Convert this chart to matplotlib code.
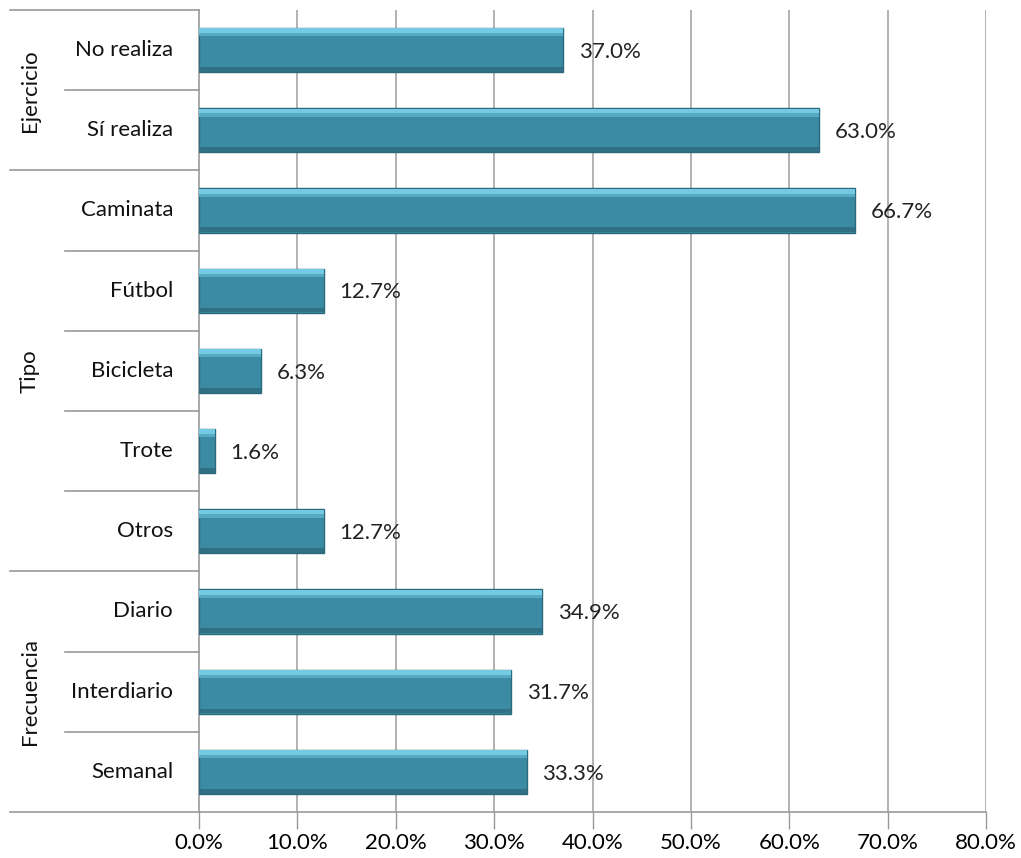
import matplotlib
matplotlib.use("Agg")
import matplotlib.pyplot as plt
import matplotlib.transforms as mtransforms

categories = ["No realiza", "Sí realiza", "Caminata", "Fútbol", "Bicicleta",
              "Trote", "Otros", "Diario", "Interdiario", "Semanal"]
values = [37.0, 63.0, 66.7, 12.7, 6.3, 1.6, 12.7, 34.9, 31.7, 33.3]
groups = ["Ejercicio", "Tipo", "Frecuencia"]
group_sizes = [2, 5, 3]
xticks = [0, 10, 20, 30, 40, 50, 60, 70, 80]

plt.rcParams['font.family'] = ['Lato', 'DejaVu Sans']
FS = 16

fig = plt.figure(figsize=(10.21, 8.58), dpi=100)
ax = fig.add_axes([199/1021, 1 - 812/858, 787/1021, 802/858])

n = len(categories)
ypos = list(range(n))
h = 0.55
ax.barh(ypos, values, height=h, color='#3A8BA3', edgecolor='#2B6A7C',
        linewidth=1.0, zorder=3)
# bevel highlight (top) and shade (bottom)
ax.barh([y - h/2 + 0.035 for y in ypos], values, height=0.06, color='#74C9E3',
        linewidth=0, zorder=4)
ax.barh([y - h/2 + 0.085 for y in ypos], values, height=0.04, color='#56AAC4',
        linewidth=0, zorder=4)
ax.barh([y + h/2 - 0.035 for y in ypos], values, height=0.06, color='#2F7085',
        linewidth=0, zorder=4)

for y, v in zip(ypos, values):
    ax.text(v + 1.6, y + 0.02, f"{v:.1f}%", va='center', ha='left',
            fontsize=FS, color='#222222', zorder=5)

ax.set_xlim(0, 80)
ax.set_ylim(n - 0.5, -0.5)
ax.set_xticks(xticks)
ax.set_xticklabels([f"{t:.1f}%" for t in xticks], fontsize=FS)
ax.tick_params(axis='x', length=12, width=1, color='#999999', pad=3)
ax.set_yticks([])
for t in xticks[1:]:
    ax.axvline(t, color='#A6A6A6', linewidth=1.2, zorder=1)
for side in ['top', 'right']:
    ax.spines[side].set_visible(False)
ax.spines['left'].set_color('#999999')
ax.spines['bottom'].set_color('#999999')
ax.spines['left'].set_linewidth(1.2)
ax.spines['bottom'].set_linewidth(1.2)

trans = mtransforms.blended_transform_factory(ax.transAxes, ax.transData)
x_far = (10 - 199) / 787
x_near = (65 - 199) / 787
for y, c in zip(ypos, categories):
    ax.text((173 - 199) / 787, y, c, transform=trans, ha='right', va='center',
            fontsize=FS, color='#111111')

start = 0
boundaries = [-0.5]
for g, s in zip(groups, group_sizes):
    center = start + (s - 1) / 2
    ax.text((30 - 199) / 787, center, g, transform=trans, rotation=90,
            ha='center', va='center', fontsize=FS, color='#111111')
    for k in range(1, s):
        yb = start + k - 0.5
        ax.plot([x_near, 0], [yb, yb], transform=trans, color='#999999',
                linewidth=1.2, clip_on=False)
    start += s
    boundaries.append(start - 0.5)
for yb in boundaries:
    ax.plot([x_far, 0], [yb, yb], transform=trans, color='#999999',
            linewidth=1.2, clip_on=False)

fig.savefig("out.png", dpi=100, facecolor='white')
